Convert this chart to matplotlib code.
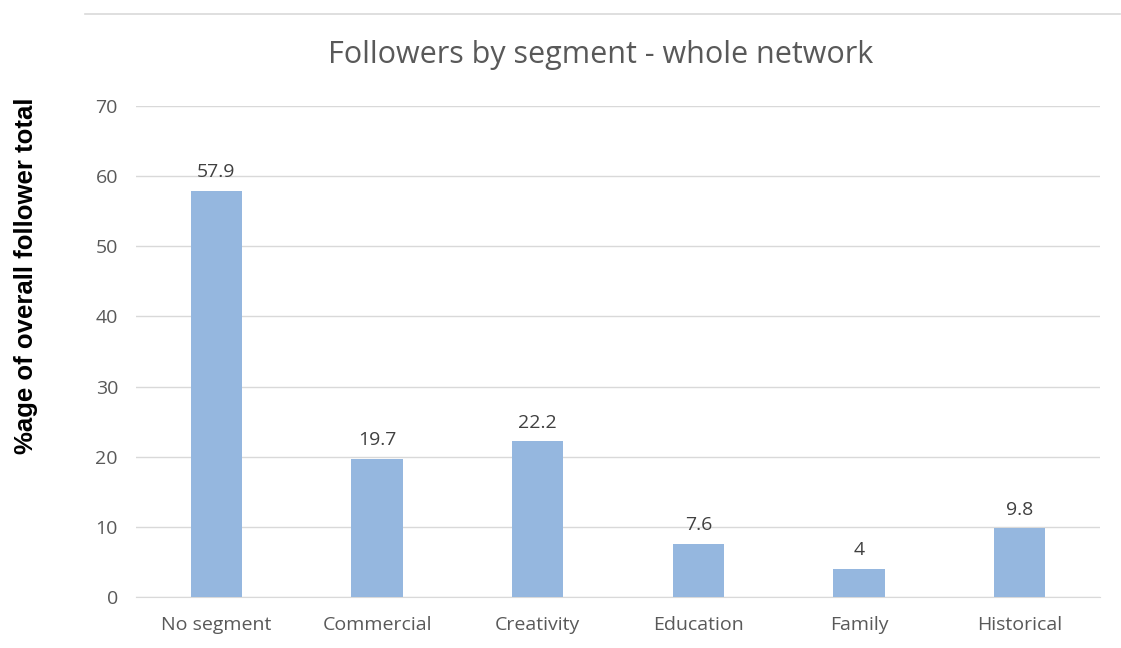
import matplotlib
matplotlib.use("Agg")
import matplotlib.pyplot as plt
from matplotlib.lines import Line2D

categories = ["No segment", "Commercial", "Creativity", "Education", "Family", "Historical"]
values = [57.9, 19.7, 22.2, 7.6, 4, 9.8]
value_labels = ["57.9", "19.7", "22.2", "7.6", "4", "9.8"]
yticks = [0, 10, 20, 30, 40, 50, 60, 70]

plt.rcParams['font.family'] = ['Open Sans', 'DejaVu Sans']

fig = plt.figure(figsize=(11.21, 6.48), dpi=100)
ax = fig.add_axes([136/1121, 1-597/648, (1100-136)/1121, (597-106)/648])

x = list(range(len(categories)))
bars = ax.bar(x, values, width=0.32, color='#95B7DF', zorder=3)
for xi, v, lab in zip(x, values, value_labels):
    ax.annotate(lab, (xi, v), xytext=(0, 7), textcoords='offset points',
                ha='center', va='bottom', fontsize=14, color='#404040')

ax.set_xlim(-0.5, len(categories)-0.5)
ax.set_ylim(0, 70)
ax.set_yticks(yticks)
ax.set_xticks(x)
ax.set_xticklabels(categories)
ax.tick_params(axis='both', length=0, labelsize=14, colors='#595959')
ax.tick_params(axis='x', pad=14)
ax.tick_params(axis='y', pad=13)
ax.yaxis.grid(True, color='#D9D9D9', linewidth=1, zorder=0)
for s in ['top', 'right', 'left']:
    ax.spines[s].set_visible(False)
ax.spines['bottom'].set_color('#D9D9D9')

fig.text(601/1121, 1-55/648, "Followers by segment - whole network",
         ha='center', va='center', fontsize=22, color='#595959')
fig.text(26/1121, 1-276/648, "%age of overall follower total",
         rotation=90, ha='center', va='center', fontsize=18.5, fontweight='bold',
         family=['Liberation Sans'], color='black')

fig.add_artist(Line2D([85/1121, 1120/1121], [1-14/648, 1-14/648],
                      transform=fig.transFigure, color='#D9D9D9', linewidth=1.2))

fig.savefig("out.png", dpi=100)
